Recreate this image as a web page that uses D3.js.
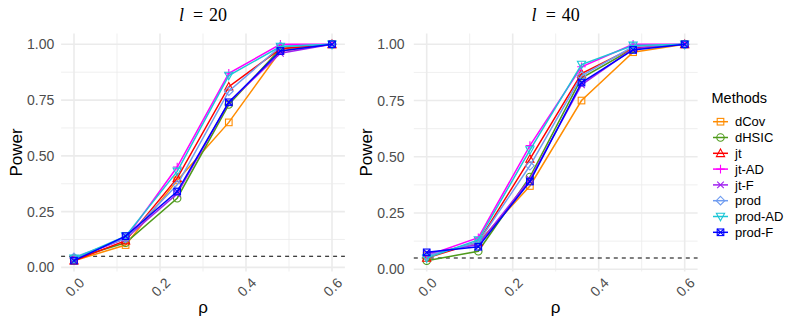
<!DOCTYPE html>
<html>
<head>
<meta charset="utf-8">
<script src="https://cdn.jsdelivr.net/npm/d3@7"></script>
<style>
  body { margin: 0; background: #fff; }
  svg text { font-family: "Liberation Sans", Arial, sans-serif; }
</style>
</head>
<body>
<div id="chart"></div>
<script>
// x values (rho) and methods
const rho = [0, 0.12, 0.24, 0.36, 0.48, 0.6];
const methods = ["dCov", "dHSIC", "jt", "jt-AD", "jt-F", "prod", "prod-AD", "prod-F"];
const methodColors = ["#FF8C00", "#4E9A1A", "#FF0000", "#FF00FF", "#A020F0", "#6F9CF0", "#1CC6D6", "#0000FF"];
const methodShapes = ["square", "circle", "triangle", "plus", "cross", "diamond", "triangleDown", "squareCross"];

// power for l = 20
const power20 = {
    "dCov":    [0.03, 0.10, 0.39, 0.65, 0.97, 1.0],
    "dHSIC":   [0.04, 0.11, 0.31, 0.73, 0.98, 1.0],
    "jt":      [0.03, 0.12, 0.40, 0.81, 0.98, 1.0],
    "jt-AD":   [0.04, 0.13, 0.45, 0.87, 1.0, 1.0],
    "jt-F":    [0.04, 0.13, 0.33, 0.74, 0.96, 1.0],
    "prod":    [0.045, 0.13, 0.37, 0.79, 0.99, 1.0],
    "prod-AD": [0.04, 0.14, 0.43, 0.86, 0.99, 1.0],
    "prod-F":  [0.03, 0.14, 0.34, 0.74, 0.97, 1.0]
};
// power for l = 40
const power40 = {
    "dCov":    [0.06, 0.12, 0.37, 0.75, 0.965, 1.0],
    "dHSIC":   [0.038, 0.08, 0.41, 0.85, 0.98, 1.0],
    "jt":      [0.05, 0.12, 0.49, 0.87, 0.985, 1.0],
    "jt-AD":   [0.06, 0.14, 0.55, 0.90, 1.0, 1.0],
    "jt-F":    [0.07, 0.11, 0.40, 0.82, 0.98, 1.0],
    "prod":    [0.06, 0.12, 0.46, 0.86, 0.99, 1.0],
    "prod-AD": [0.05, 0.13, 0.53, 0.91, 0.995, 1.0],
    "prod-F":  [0.075, 0.10, 0.39, 0.83, 0.975, 1.0]
};

const xTicks = [0, 0.2, 0.4, 0.6];
const xMinor = [0.1, 0.3, 0.5];
const yTicks = [0, 0.25, 0.5, 0.75, 1.0];
const yMinor = [0.125, 0.375, 0.625, 0.875];
const alphaLevel = 0.05;

const width = 793, height = 331;
const svg = d3.select("#chart").append("svg")
    .attr("width", width)
    .attr("height", height);

const color = d3.scaleOrdinal().domain(methods).range(methodColors);
const shape = d3.scaleOrdinal().domain(methods).range(methodShapes);

// draw one marker shape centred at 0,0
function drawShape(g, type, col) {
    const s = 3.3;
    const st = { fill: "none", stroke: col, "stroke-width": 1.1 };
    const add = (tag, attrs) => {
        const el = g.append(tag);
        Object.entries(Object.assign({}, st, attrs)).forEach(([k, v]) => el.attr(k, v));
    };
    if (type === "square" || type === "squareCross") {
        add("rect", { x: -s, y: -s, width: 2 * s, height: 2 * s });
        if (type === "squareCross") add("path", { d: `M${-s},${-s}L${s},${s}M${-s},${s}L${s},${-s}` });
    } else if (type === "circle") {
        add("circle", { r: s + 0.4 });
    } else if (type === "triangle") {
        add("path", { d: `M0,${-s - 1}L${s + 0.8},${s}L${-s - 0.8},${s}Z` });
    } else if (type === "triangleDown") {
        add("path", { d: `M0,${s + 1}L${s + 0.8},${-s}L${-s - 0.8},${-s}Z` });
    } else if (type === "plus") {
        add("path", { d: `M${-s - 1},0L${s + 1},0M0,${-s - 1}L0,${s + 1}` });
    } else if (type === "cross") {
        add("path", { d: `M${-s},${-s}L${s},${s}M${-s},${s}L${s},${-s}` });
    } else if (type === "diamond") {
        add("path", { d: `M0,${-s - 1}L${s + 1},0L0,${s + 1}L${-s - 1},0Z` });
    }
}

function drawPanel(left, power, label, axisShift) {
    const pw = 283.8, top = 33.5, bottom = 271.5;
    const xScale = d3.scaleLinear().domain([-0.03, 0.63]).range([left, left + pw]);

    const allVals = methods.flatMap(m => power[m]).concat([alphaLevel]);
    const lo = d3.min(allVals), hi = d3.max(allVals);
    const pad = (hi - lo) * 0.05;
    const yScale = d3.scaleLinear().domain([lo - pad, hi + pad]).range([bottom, top]);

    const g = svg.append("g");

    // grid
    g.selectAll(".ymin").data(yMinor).enter().append("line")
        .attr("x1", left).attr("x2", left + pw)
        .attr("y1", d => yScale(d)).attr("y2", d => yScale(d))
        .attr("stroke", "#EBEBEB").attr("stroke-width", 0.8);
    g.selectAll(".xmin").data(xMinor).enter().append("line")
        .attr("x1", d => xScale(d)).attr("x2", d => xScale(d))
        .attr("y1", top).attr("y2", bottom)
        .attr("stroke", "#EBEBEB").attr("stroke-width", 0.8);
    g.selectAll(".ymaj").data(yTicks).enter().append("line")
        .attr("x1", left).attr("x2", left + pw)
        .attr("y1", d => yScale(d)).attr("y2", d => yScale(d))
        .attr("stroke", "#EBEBEB").attr("stroke-width", 1.6);
    g.selectAll(".xmaj").data(xTicks).enter().append("line")
        .attr("x1", d => xScale(d)).attr("x2", d => xScale(d))
        .attr("y1", top).attr("y2", bottom)
        .attr("stroke", "#EBEBEB").attr("stroke-width", 1.6);

    // axis tick labels
    g.selectAll(".ylab").data(yTicks).enter().append("text")
        .attr("x", left - 6.8 - axisShift)
        .attr("y", d => yScale(d))
        .attr("dy", "0.36em")
        .attr("text-anchor", "end")
        .attr("fill", "#4D4D4D")
        .style("font-size", "14px")
        .text(d => d3.format(".2f")(d));

    g.selectAll(".xlab").data(xTicks).enter().append("text")
        .attr("transform", d => `translate(${xScale(d) + 4},${bottom + 5}) rotate(-45)`)
        .attr("dy", "0.72em")
        .attr("text-anchor", "end")
        .attr("fill", "#4D4D4D")
        .style("font-size", "14px")
        .text(d => d3.format(".1f")(d));

    // axis titles
    g.append("text")
        .attr("transform", `translate(${left - 39.6 - axisShift},${(top + bottom) / 2}) rotate(-90)`)
        .attr("text-anchor", "middle")
        .attr("fill", "#000")
        .style("font-size", "17px")
        .text("Power");

    g.append("text")
        .attr("x", left + pw / 2)
        .attr("y", 313)
        .attr("text-anchor", "middle")
        .attr("fill", "#000")
        .style("font-size", "17px")
        .text("ρ");

    // panel title
    const title = g.append("text")
        .attr("x", left + pw / 2)
        .attr("y", 21)
        .attr("text-anchor", "middle")
        .style("font-family", "'Liberation Serif', 'Times New Roman', serif")
        .style("font-size", "18px");
    title.append("tspan").style("font-style", "italic").text("l");
    title.append("tspan").attr("dx", 9).text("=");
    title.append("tspan").attr("dx", 6).text(label);

    // reference line
    g.append("line")
        .attr("x1", left).attr("x2", left + pw)
        .attr("y1", yScale(alphaLevel)).attr("y2", yScale(alphaLevel))
        .attr("stroke", "#000").attr("stroke-width", 1.1)
        .attr("stroke-dasharray", "4,4");

    const line = d3.line()
        .x((d, i) => xScale(rho[i]))
        .y(d => yScale(d));

    methods.forEach(m => {
        g.append("path")
            .datum(power[m])
            .attr("fill", "none")
            .attr("stroke", color(m))
            .attr("stroke-width", 1.5)
            .attr("d", line);
        power[m].forEach((v, i) => {
            const pg = g.append("g").attr("transform", `translate(${xScale(rho[i])},${yScale(v)})`);
            drawShape(pg, shape(m), color(m));
        });
    });
}

drawPanel(61.1, power20, "20", 0);
drawPanel(413.8, power40, "40", 2.5);

// legend
const legend = svg.append("g");
legend.append("text")
    .attr("x", 711.5)
    .attr("y", 103)
    .attr("fill", "#000")
    .style("font-size", "14.5px")
    .text("Methods");

methods.forEach((m, i) => {
    const cy = 121.7 + i * 15.8;
    legend.append("line")
        .attr("x1", 713).attr("x2", 728)
        .attr("y1", cy).attr("y2", cy)
        .attr("stroke", color(m)).attr("stroke-width", 1.5);
    const pg = legend.append("g").attr("transform", `translate(720.5,${cy})`);
    drawShape(pg, shape(m), color(m));
    legend.append("text")
        .attr("x", 735)
        .attr("y", cy)
        .attr("dy", "0.36em")
        .attr("fill", "#000")
        .style("font-size", "13px")
        .text(m);
});
</script>
</body>
</html>
